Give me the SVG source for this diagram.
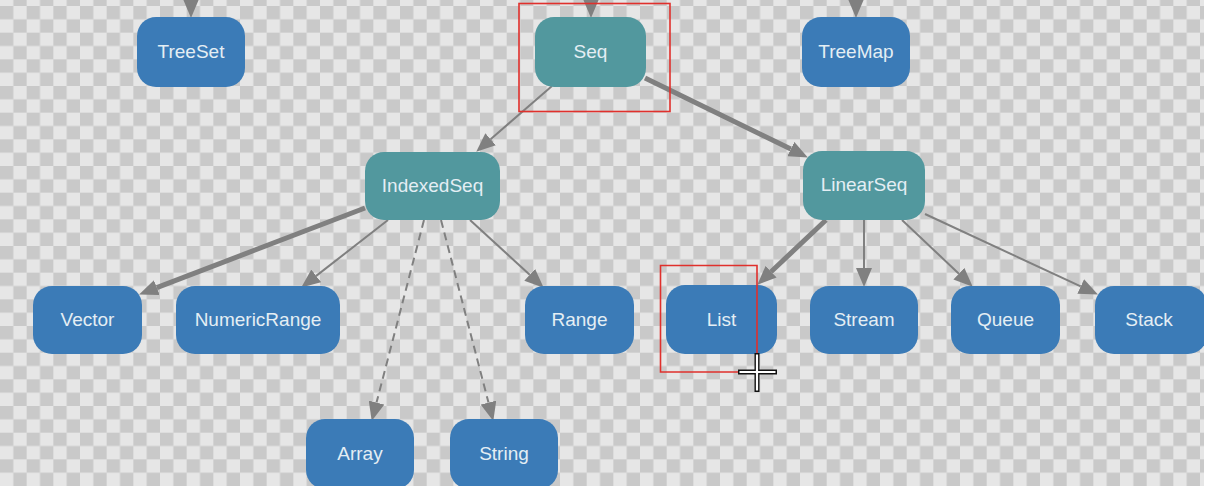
<svg xmlns="http://www.w3.org/2000/svg" width="1221" height="499" viewBox="0 0 1221 499">
<style>
.blue rect{fill:#3b7bb7}
.teal rect{fill:#52989e}
text{font-family:"Liberation Sans",Arial,sans-serif;font-size:19px;fill:#e4eef4;text-anchor:middle}
.e{stroke:#808080;fill:none;stroke-width:2;marker-end:url(#ah)}
.thick{stroke-width:5}
.dash{stroke-dasharray:8 5}
.sel{fill:none;stroke:#e0302c;stroke-width:1.6}
</style>
<defs>
<pattern id="chk" width="26.667" height="26.667" patternUnits="userSpaceOnUse" patternTransform="translate(0,6)">
<rect width="26.667" height="26.667" fill="#e6e6e6"/>
<rect width="13.333" height="13.333" fill="#c9c9c9"/>
<rect x="13.333" y="13.333" width="13.333" height="13.333" fill="#c9c9c9"/>
</pattern>
<marker id="ah" markerUnits="userSpaceOnUse" markerWidth="20" markerHeight="16" refX="0" refY="8" orient="auto" viewBox="0 0 20 16">
<path d="M0,0 L19,8 L0,16 z" fill="#808080"/>
</marker>
<clipPath id="clip"><rect x="0" y="0" width="1204" height="486"/></clipPath>
</defs>
<rect width="1221" height="499" fill="#ffffff"/>
<g clip-path="url(#clip)">
<rect width="1204" height="486" fill="url(#chk)"/>
<g id="connectors">
<line class="e" x1="191" y1="-30" x2="191" y2="-1"/>
<line class="e" x1="591" y1="-30" x2="591" y2="-1"/>
<line class="e" x1="856" y1="-30" x2="856" y2="-1"/>
<line class="e" x1="552" y1="86" x2="490.6" y2="139.2"/>
<line class="e thick" x1="645" y1="78" x2="790.8" y2="149.1"/>
<line class="e thick" x1="365" y1="208" x2="156.8" y2="287.6"/>
<line class="e" x1="388" y1="220" x2="316.2" y2="275.9"/>
<line class="e dash" x1="424" y1="220" x2="376.5" y2="402.6"/>
<line class="e dash" x1="441" y1="220" x2="488.5" y2="402.6"/>
<line class="e" x1="470" y1="220" x2="529.7" y2="274.8"/>
<line class="e thick" x1="826" y1="220" x2="771.1" y2="271.7"/>
<line class="e" x1="864" y1="220" x2="864" y2="268"/>
<line class="e" x1="902" y1="220" x2="958.9" y2="273.7"/>
<line class="e" x1="925" y1="214" x2="1080.7" y2="286.4"/>
</g>
<g id="TreeSet" class="blue"><rect x="137" y="17" width="108" height="70" rx="19"/><text x="191" y="58">TreeSet</text></g>
<g id="Seq" class="teal"><rect x="535" y="17" width="111" height="70" rx="19"/><text x="590.5" y="58">Seq</text></g>
<g id="TreeMap" class="blue"><rect x="802" y="17" width="108" height="70" rx="19"/><text x="856" y="58">TreeMap</text></g>
<g id="IndexedSeq" class="teal"><rect x="365" y="152" width="135" height="68" rx="19"/><text x="432.5" y="192">IndexedSeq</text></g>
<g id="LinearSeq" class="teal"><rect x="803" y="151" width="122" height="69" rx="19"/><text x="864" y="191">LinearSeq</text></g>
<g id="Vector" class="blue"><rect x="33" y="286" width="109" height="68" rx="19"/><text x="87.5" y="326">Vector</text></g>
<g id="NumericRange" class="blue"><rect x="176" y="286" width="164" height="68" rx="19"/><text x="258" y="326">NumericRange</text></g>
<g id="Range" class="blue"><rect x="525" y="286" width="109" height="68" rx="19"/><text x="579.5" y="326">Range</text></g>
<g id="List" class="blue"><rect x="666" y="285" width="111" height="69" rx="19"/><text x="721.5" y="326">List</text></g>
<g id="Stream" class="blue"><rect x="810" y="286" width="108" height="68" rx="19"/><text x="864" y="326">Stream</text></g>
<g id="Queue" class="blue"><rect x="951" y="286" width="109" height="68" rx="19"/><text x="1005.5" y="326">Queue</text></g>
<g id="Stack" class="blue"><rect x="1095" y="286" width="112" height="68" rx="19"/><text x="1149" y="326">Stack</text></g>
<g id="Array" class="blue"><rect x="306" y="419" width="108" height="70" rx="19"/><text x="360" y="460">Array</text></g>
<g id="String" class="blue"><rect x="450" y="419" width="108" height="70" rx="19"/><text x="504" y="460">String</text></g>
<rect class="sel" x="519" y="3.5" width="151" height="108"/>
<path class="sel" d="M757,354 V265.5 H660.5 V372 H740"/>
<g id="cursor">
<path d="M738,372 H777 M757,353 V392" stroke="#111" stroke-width="5"/>
<path d="M739.5,372 H775.5 M757,354.5 V390.5" stroke="#fff" stroke-width="2.2"/>
</g>
</g>
</svg>
